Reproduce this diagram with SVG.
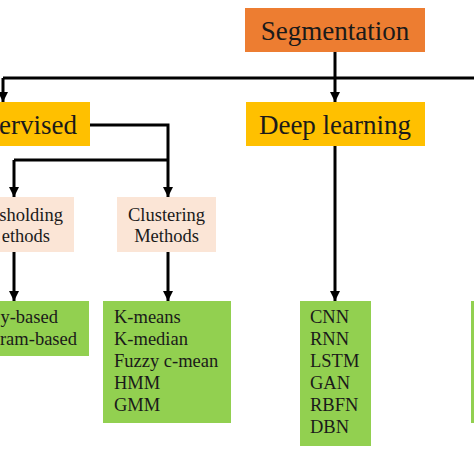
<svg xmlns="http://www.w3.org/2000/svg" width="474" height="474" viewBox="0 0 474 474">
<defs>
<marker id="ah" viewBox="0 0 10 10" refX="10" refY="5" markerWidth="10" markerHeight="10" markerUnits="userSpaceOnUse" orient="auto">
<path d="M0,0 L10,5 L0,10 z" fill="#000"/>
</marker>
<style>
.t{font-family:"Liberation Serif","Times New Roman",serif;fill:#1a1a1a}
.big{font-size:27px}
.mid{font-size:18.5px}
.orange{fill:#ED7D31}
.yellow{fill:#FFC000}
.peach{fill:#FBE5D6}
.green{fill:#92D050}
.c{fill:none;stroke:#000;stroke-width:3}
.a{fill:none;stroke:#000;stroke-width:3;marker-end:url(#ah)}
</style>
</defs>
<rect width="474" height="474" fill="#fff"/>
<g id="connectors">
<line class="c" x1="335" y1="52" x2="335" y2="78"/>
<line class="c" x1="3" y1="78" x2="474" y2="78"/>
<line class="a" x1="3" y1="78" x2="3" y2="102"/>
<line class="a" x1="335" y1="78" x2="335" y2="102"/>
<polyline class="c" points="90,125 168,125 168,160"/>
<line class="c" x1="14" y1="160" x2="168" y2="160"/>
<line class="a" x1="14" y1="160" x2="14" y2="197"/>
<line class="a" x1="168" y1="160" x2="168" y2="197"/>
<line class="a" x1="14" y1="252" x2="14" y2="301"/>
<line class="a" x1="168" y1="252" x2="168" y2="301"/>
<line class="a" x1="335" y1="146" x2="335" y2="301"/>
</g>
<g id="segmentation">
<rect class="orange" x="245" y="8" width="180" height="44"/>
<text class="t big" x="335" y="40" text-anchor="middle">Segmentation</text>
</g>
<g id="unsupervised">
<rect class="yellow" x="-84" y="102" width="174" height="44"/>
<text class="t big" x="77" y="134" text-anchor="end">ervised</text>
</g>
<g id="deep-learning">
<rect class="yellow" x="246" y="102" width="179" height="44"/>
<text class="t big" x="335" y="134" text-anchor="middle">Deep learning</text>
</g>
<g id="thresholding">
<rect class="peach" x="-25" y="197" width="99" height="55"/>
<text class="t mid" x="63" y="221" text-anchor="end">sholding</text>
<text class="t mid" x="50" y="242" text-anchor="end">ethods</text>
</g>
<g id="clustering">
<rect class="peach" x="117" y="197" width="99" height="55"/>
<text class="t mid" x="166.5" y="221" text-anchor="middle">Clustering</text>
<text class="t mid" x="166.5" y="242" text-anchor="middle">Methods</text>
</g>
<g id="threshold-list">
<rect class="green" x="-60" y="301" width="149" height="55"/>
<text class="t mid" x="58" y="323" text-anchor="end">y-based</text>
<text class="t mid" x="77" y="345" text-anchor="end">ram-based</text>
</g>
<g id="cluster-list">
<rect class="green" x="103" y="301" width="128" height="122"/>
<text class="t mid" x="114" y="323">K-means</text>
<text class="t mid" x="114" y="345">K-median</text>
<text class="t mid" x="114" y="367">Fuzzy c-mean</text>
<text class="t mid" x="114" y="389">HMM</text>
<text class="t mid" x="114" y="411">GMM</text>
</g>
<g id="dl-list">
<rect class="green" x="300" y="301" width="71" height="145"/>
<text class="t mid" x="310" y="323">CNN</text>
<text class="t mid" x="310" y="345">RNN</text>
<text class="t mid" x="310" y="367">LSTM</text>
<text class="t mid" x="310" y="389">GAN</text>
<text class="t mid" x="310" y="411">RBFN</text>
<text class="t mid" x="310" y="433">DBN</text>
</g>
<g id="right-list">
<rect class="green" x="471" y="301" width="20" height="122"/>
</g>
</svg>
